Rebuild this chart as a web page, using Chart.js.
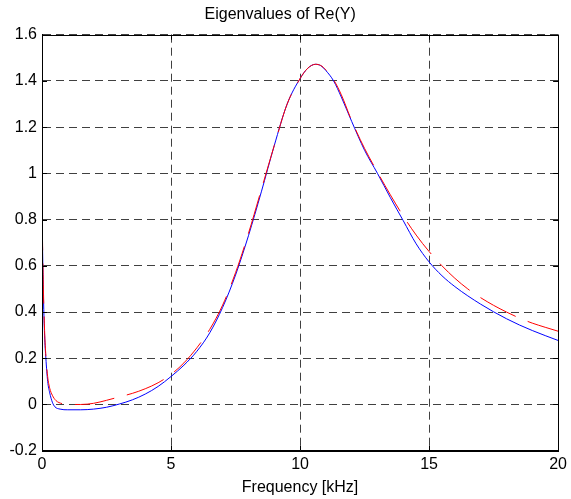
<!DOCTYPE html>
<html>
<head>
<meta charset="utf-8">
<script src="https://cdn.jsdelivr.net/npm/chart.js@4"></script>
<style>
  html, body { margin: 0; padding: 0; background: #fff; }
  #wrap { width: 571px; height: 499px; position: relative; }
</style>
</head>
<body>
<div id="wrap"><canvas id="eig-chart"></canvas></div>
<script>
// Eigenvalues of Re(Y) vs frequency
const freqBlue = [0, 0.05, 0.1, 0.15, 0.22, 0.3, 0.4, 0.5, 0.7, 1.0, 1.5, 2.0, 2.5, 3.0, 3.5, 4.0, 4.5, 5.0, 5.5, 6.0, 6.5, 7.0, 7.5, 8.0, 8.5, 9.0, 9.5, 10.0, 10.3, 10.6, 10.8, 11.0, 11.3, 11.6, 12.0, 12.5, 13.0, 13.5, 14.0, 14.5, 15.0, 15.5, 16.0, 16.5, 17.0, 17.5, 18.0, 18.5, 19.0, 19.5, 20];
const blueValues = [0.82, 0.5, 0.3, 0.2, 0.1, 0.05, 0.01, -0.01, -0.02, -0.023, -0.023, -0.02, -0.012, 0.002, 0.02, 0.045, 0.078, 0.121, 0.17, 0.23, 0.31, 0.42, 0.56, 0.73, 0.92, 1.12, 1.3, 1.41, 1.455, 1.472, 1.466, 1.445, 1.4, 1.33, 1.225, 1.1, 1.0, 0.895, 0.795, 0.695, 0.617, 0.557, 0.51, 0.47, 0.434, 0.401, 0.371, 0.344, 0.32, 0.298, 0.277];

const freqRed = [0, 0.05, 0.1, 0.15, 0.22, 0.3, 0.4, 0.54, 0.8, 1.0, 1.5, 2.0, 2.5, 3.0, 3.5, 4.0, 4.5, 5.0, 5.5, 6.0, 6.5, 7.0, 7.5, 8.0, 8.5, 9.0, 9.5, 10.0, 10.3, 10.6, 10.8, 11.0, 11.3, 11.6, 12.0, 12.5, 13.0, 13.5, 14.0, 14.5, 15.0, 15.5, 16.0, 16.5, 17.0, 17.5, 18.0, 18.5, 19.0, 19.5, 20];
const redValues = [0.84, 0.52, 0.32, 0.21, 0.12, 0.07, 0.04, 0.017, 0.003, 0.0, 0.0, 0.005, 0.018, 0.033, 0.048, 0.068, 0.094, 0.13, 0.18, 0.245, 0.325, 0.43, 0.57, 0.74, 0.93, 1.12, 1.3, 1.41, 1.455, 1.472, 1.467, 1.448, 1.405, 1.34, 1.228, 1.108, 1.005, 0.907, 0.815, 0.733, 0.662, 0.6, 0.546, 0.5, 0.462, 0.429, 0.4, 0.374, 0.352, 0.334, 0.317];

const xTicks = [0, 5, 10, 15, 20];
const yTicks = [-0.2, 0, 0.2, 0.4, 0.6, 0.8, 1, 1.2, 1.4, 1.6];

const FONT = 'Arial, "Liberation Sans", sans-serif';

function toPoints(xs, ys) {
  return xs.map((x, i) => ({ x: x, y: ys[i] }));
}

// Box around the plot plus small inward tick marks (MATLAB style)
const boxPlugin = {
  id: 'axesBox',
  afterDatasetsDraw(chart) {
    const { ctx, chartArea: a, scales } = chart;
    ctx.save();
    ctx.strokeStyle = '#000';
    ctx.lineWidth = 1;
    ctx.setLineDash([]);
    ctx.beginPath();
    xTicks.forEach(v => {
      const px = Math.round(scales.x.getPixelForValue(v)) + 0.5;
      ctx.moveTo(px, a.bottom); ctx.lineTo(px, a.bottom - 5);
      ctx.moveTo(px, a.top); ctx.lineTo(px, a.top + 5);
    });
    yTicks.forEach(v => {
      const py = Math.round(scales.y.getPixelForValue(v)) + 0.5;
      ctx.moveTo(a.left, py); ctx.lineTo(a.left + 5, py);
      ctx.moveTo(a.right, py); ctx.lineTo(a.right - 5, py);
    });
    ctx.stroke();
    ctx.strokeRect(Math.round(a.left) + 0.5, Math.round(a.top) + 0.5,
      Math.round(a.right - a.left), Math.round(a.bottom - a.top));
    ctx.restore();
  }
};

const ctx = document.getElementById('eig-chart');
new Chart(ctx, {
  type: 'scatter',
  data: {
    datasets: [{
      label: 'Eigenvalue (fitted)',
      data: toPoints(freqRed, redValues),
      showLine: true,
      borderColor: 'rgb(255, 0, 0)',
      borderWidth: 1,
      borderDash: [40, 13],
      pointRadius: 0,
      cubicInterpolationMode: 'monotone'
    }, {
      label: 'Eigenvalue',
      data: toPoints(freqBlue, blueValues),
      showLine: true,
      borderColor: 'rgb(0, 0, 255)',
      borderWidth: 1,
      pointRadius: 0,
      cubicInterpolationMode: 'monotone'
    }]
  },
  options: {
    responsive: true,
    maintainAspectRatio: false,
    animation: false,
    layout: { padding: { left: 0, right: 10.7, top: 0, bottom: 0 } },
    plugins: {
      legend: { display: false },
      tooltip: { enabled: false },
      title: {
        display: true,
        text: 'Eigenvalues of Re(Y)',
        color: '#000',
        font: { family: FONT, size: 16, weight: 'normal' },
        padding: { top: 4.6, bottom: 10.9 }
      }
    },
    scales: {
      x: {
        type: 'linear',
        min: 0,
        max: 20,
        afterBuildTicks: scale => { scale.ticks = xTicks.map(v => ({ value: v })); },
        afterFit: scale => { scale.height = 48.3; },
        grid: { color: 'rgba(0, 0, 0, 0.75)', lineWidth: 1, drawTicks: false },
        border: { display: true, color: '#000', width: 1, dash: [8, 5] },
        ticks: {
          color: '#000',
          padding: 4,
          font: { family: FONT, size: 16 },
          callback: v => String(v)
        },
        title: {
          display: true,
          text: 'Frequency [kHz]',
          color: '#000',
          font: { family: FONT, size: 16 },
          padding: { top: 0, bottom: 2 }
        }
      },
      y: {
        type: 'linear',
        min: -0.2,
        max: 1.6,
        afterBuildTicks: scale => { scale.ticks = yTicks.map(v => ({ value: v })); },
        afterFit: scale => { scale.width = 42; },
        grid: { color: 'rgba(0, 0, 0, 0.75)', lineWidth: 1, drawTicks: false },
        border: { display: true, color: '#000', width: 1, dash: [8, 5] },
        ticks: {
          color: '#000',
          padding: 5,
          font: { family: FONT, size: 16 },
          callback: v => String(Number(v.toFixed(1)))
        }
      }
    }
  },
  plugins: [boxPlugin]
});
</script>
</body>
</html>
